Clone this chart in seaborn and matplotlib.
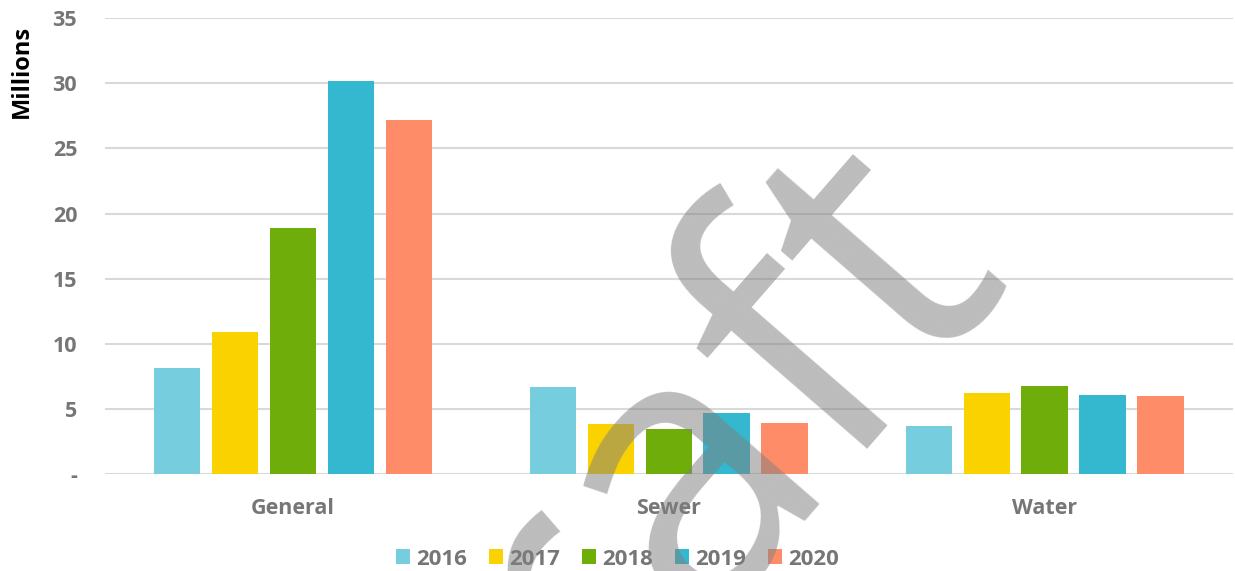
import matplotlib
matplotlib.use("Agg")
import matplotlib.pyplot as plt
import seaborn as sns
import pandas as pd

categories = ["General", "Sewer", "Water"]
years = ["2016", "2017", "2018", "2019", "2020"]
v2016 = [8.1, 6.65, 3.7]
v2017 = [10.9, 3.85, 6.2]
v2018 = [18.9, 3.45, 6.75]
v2019 = [30.2, 4.65, 6.05]
v2020 = [27.2, 3.95, 6.0]
colors = ["#76CDDE", "#FAD200", "#6EAD0A", "#33B8CF", "#FF8C69"]
yticks = [0, 5, 10, 15, 20, 25, 30, 35]
ytick_labels = ["-", "5", "10", "15", "20", "25", "30", "35"]

series = [v2016, v2017, v2018, v2019, v2020]
rows = []
for y, vals in zip(years, series):
    for c, v in zip(categories, vals):
        rows.append({"category": c, "year": y, "value": v})
df = pd.DataFrame(rows)

sns.set_theme(style="white")
plt.rcParams["font.family"] = ["Open Sans", "DejaVu Sans"]

fig = plt.figure(figsize=(12.35, 5.71), dpi=100)
ax = fig.add_axes([0.085, 0.170, 0.913, 0.798])

sns.barplot(data=df, x="category", y="value", hue="year", order=categories,
            hue_order=years, palette=dict(zip(years, colors)), width=0.77,
            gap=0.2, saturation=1, ax=ax, zorder=3, linewidth=0)

ax.set_ylim(0, 35)
ax.set_xlim(-0.5, 2.5)
ax.set_yticks(yticks)
ax.set_yticklabels(ytick_labels)
ax.grid(axis="y", color="#D9D9D9", linewidth=1.5, zorder=0)
ax.grid(axis="x", visible=False)
for s in ax.spines.values():
    s.set_visible(False)
ax.tick_params(axis="both", length=0, labelsize=15.5, labelcolor="#767676")
ax.tick_params(axis="y", pad=20)
ax.tick_params(axis="x", pad=17)
for lab in ax.get_xticklabels() + ax.get_yticklabels():
    lab.set_fontweight("bold")
ax.set_xlabel("")
ax.set_ylabel("")

fig.text(22 / 1235, 1 - 71 / 571, "Millions", rotation=90, ha="center",
         va="center", fontsize=17, fontweight="bold", color="#000000")

handles, labels = ax.get_legend_handles_labels()
ax.get_legend().remove()
fig.legend(handles, labels, loc="center", bbox_to_anchor=(0.5, 0.021),
           ncol=5, frameon=False, handlelength=0.63, handleheight=0.63,
           handletextpad=0.27, columnspacing=1.0,
           prop={"weight": "bold", "size": 16}, labelcolor="#767676")

fig.text(628 / 1235, 1 - 530 / 571, "Draft", rotation=49, ha="center",
         va="center", rotation_mode="anchor", fontsize=275,
         fontweight="normal", color="#7F7F7F", alpha=0.52, zorder=10)

fig.savefig("out.png", dpi=100)
